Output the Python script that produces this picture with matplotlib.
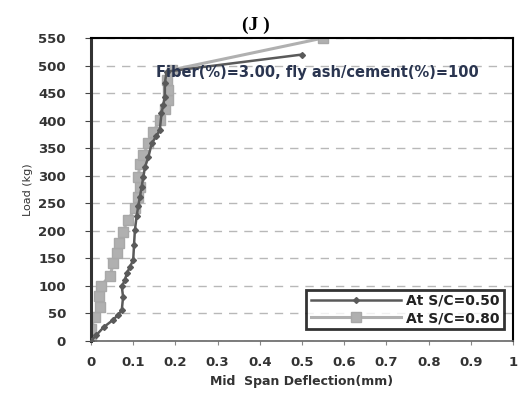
import matplotlib
matplotlib.use("Agg")
import matplotlib.pyplot as plt
from matplotlib.ticker import MultipleLocator

# S/C = 0.50 (dark, diamonds)
defl_050 = [0.0, 0.012, 0.03, 0.052, 0.065, 0.073, 0.076, 0.073, 0.08, 0.085, 0.092,
            0.1, 0.102, 0.104, 0.108, 0.112, 0.116, 0.12, 0.124, 0.128, 0.136,
            0.144, 0.155, 0.163, 0.167, 0.171, 0.175, 0.175, 0.179, 0.5]
load_050 = [0, 10, 25, 38, 48, 56, 80, 99, 110, 123, 134,
            147, 175, 201, 226, 245, 262, 280, 298, 316, 334,
            359, 372, 383, 413, 428, 443, 468, 489, 520]

# S/C = 0.80 (light, squares)
defl_080 = [0.0, 0.0, 0.009, 0.021, 0.02, 0.023, 0.045, 0.053, 0.061, 0.067, 0.075,
            0.088, 0.104, 0.112, 0.116, 0.112, 0.116, 0.124, 0.136, 0.148, 0.163,
            0.175, 0.183, 0.183, 0.179, 0.191, 0.55]
load_080 = [3, 22, 44, 62, 81, 100, 118, 141, 160, 178, 198,
            220, 241, 262, 280, 298, 322, 337, 359, 380, 401,
            422, 437, 455, 474, 492, 550]

xticks = [0, 0.1, 0.2, 0.3, 0.4, 0.5, 0.6, 0.7, 0.8, 0.9, 1]
xticklabels = ["0", "0.1", "0.2", "0.3", "0.4", "0.5", "0.6", "0.7", "0.8", "0.9", "1"]

fig = plt.figure(figsize=(5.29, 3.96), dpi=100)
ax = fig.add_axes([0.172, 0.139, 0.798, 0.765])

ax.plot(defl_080, load_080, color="#b0b0b0", linewidth=2.2, marker="s",
        markersize=7, markeredgecolor="#a8a8a8", label="At S/C=0.80", zorder=2)
ax.plot(defl_050, load_050, color="#5a5a5a", linewidth=1.8, marker="D",
        markersize=3, label="At S/C=0.50", zorder=3)

ax.set_xlim(0, 1)
ax.set_ylim(0, 550)
ax.yaxis.set_major_locator(MultipleLocator(50))
ax.set_xticks(xticks)
ax.set_xticklabels(xticklabels)
ax.grid(axis="y", linestyle=(0, (6, 5)), color="#b8b8b8", linewidth=1.0)
ax.set_axisbelow(True)

for lab in ax.get_xticklabels() + ax.get_yticklabels():
    lab.set_fontweight("bold")
    lab.set_fontsize(9.5)
    lab.set_color("#333333")
ax.tick_params(axis="y", direction="out", length=4, color="#444444", pad=14)
ax.tick_params(axis="x", direction="out", length=3, color="#888888", pad=8)

ax.spines["left"].set_linewidth(2.2)
ax.spines["left"].set_color("#333333")
ax.spines["bottom"].set_linewidth(1.2)
ax.spines["bottom"].set_color("#666666")
for s in ["top", "right"]:
    ax.spines[s].set_linewidth(1.5)
    ax.spines[s].set_color("black")

ax.set_xlabel("Mid  Span Deflection(mm)", fontsize=9, fontweight="bold",
              color="#333333", labelpad=4)
ax.set_ylabel("Load (kg)", fontsize=8, color="#333333", labelpad=4)
ax.set_title("(J )", fontsize=14, fontweight="bold", family="Liberation Serif",
             x=0.39, pad=6)

ax.text(0.155, 487, "Fiber(%)=3.00, fly ash/cement(%)=100", fontsize=10.5,
        fontweight="bold", color="#2a3550", va="center", ha="left",
        clip_on=False, zorder=4)

handles, labels = ax.get_legend_handles_labels()
leg = ax.legend(handles[::-1], labels[::-1], loc="lower right",
                bbox_to_anchor=(0.995, 0.015), frameon=True, fancybox=False,
                prop={"weight": "bold", "size": 10}, handlelength=6.5,
                borderpad=0.3, labelspacing=0.25, handletextpad=0.4)
leg.get_frame().set_edgecolor("black")
leg.get_frame().set_linewidth(2)
for t in leg.get_texts():
    t.set_color("#222222")

fig.savefig("out.png", dpi=100)
